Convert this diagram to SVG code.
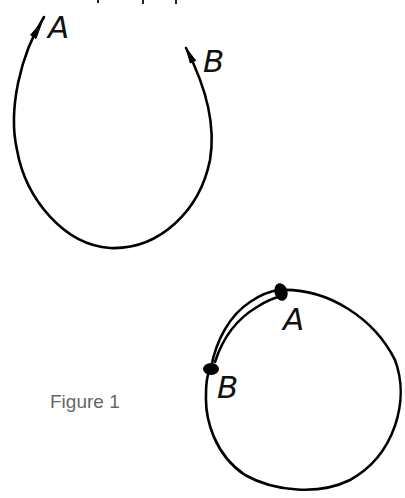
<svg xmlns="http://www.w3.org/2000/svg" width="405" height="498" viewBox="0 0 405 498">
<style>
.ln{fill:none;stroke:#000;stroke-width:2.6;stroke-linecap:round;stroke-linejoin:round}
.hand{font-family:"DejaVu Sans",sans-serif;font-style:oblique;font-size:31px;fill:#111}
.cap{font-family:"Liberation Sans",Arial,sans-serif;font-size:19px;fill:#666}
.ah{fill:#000;stroke:#000;stroke-width:1;stroke-linejoin:round}
</style>
<rect width="405" height="498" fill="#fff"/>
<g id="marks">
<rect x="97" y="0" width="2" height="3" fill="#222"/>
<rect x="142" y="0" width="2" height="4" fill="#222"/>
<rect x="175" y="0" width="2" height="4" fill="#222"/>
</g>
<g id="connectors">
<path class="ln" d="M 44,17 C 20,55 8,110 17,150 C 26,200 65,245 110,248 C 160,250 200,210 210,160 C 216,125 205,85 186,48"/>
<polygon class="ah" points="42,22 30.5,35 36,38.5"/>
<polygon class="ah" points="186,48 190.3,63 195.7,60.5"/>
<path class="ln" d="M 280,290 C 330,288 375,320 395,360 C 410,400 395,455 350,480 C 320,495 275,492 245,475 C 215,455 205,420 206,395 C 206,380 208,372 211,368"/>
<path class="ln" d="M 211,368 C 216,340 230,315 250,302 C 260,295 270,291 280,290"/>
<path class="ln" d="M 215,362 C 222,340 235,320 257,307 C 266,301 273,298 282,296"/>
</g>
<g id="node-A-top"><text class="hand" x="48" y="38">A</text></g>
<g id="node-B-top"><text class="hand" x="203" y="72">B</text></g>
<g id="node-A-bottom">
<ellipse cx="281" cy="292" rx="6.5" ry="9" transform="rotate(-15 281 292)" fill="#000"/>
<text class="hand" x="283" y="330">A</text>
</g>
<g id="node-B-bottom">
<ellipse cx="211" cy="369" rx="8" ry="6" fill="#000"/>
<text class="hand" x="217" y="398">B</text>
</g>
<g id="caption"><text class="cap" x="50" y="408">Figure 1</text></g>
</svg>
